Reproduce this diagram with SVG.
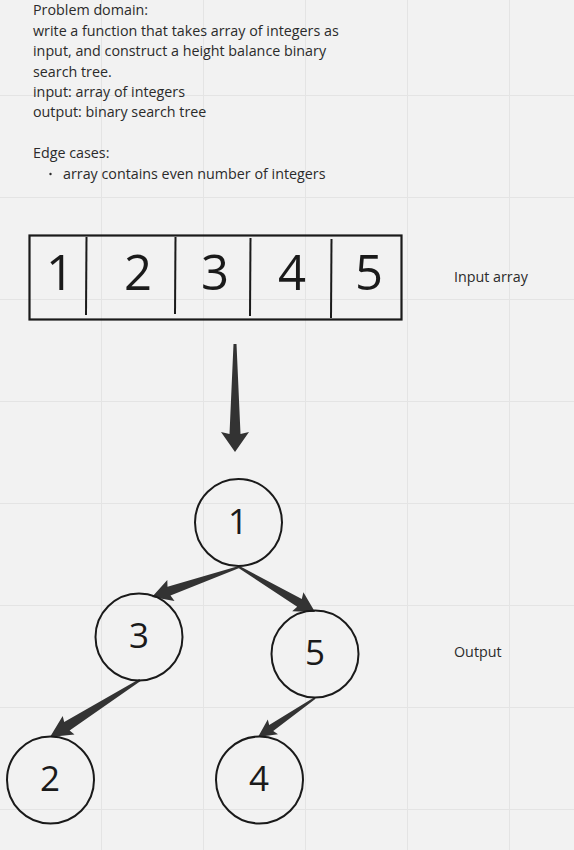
<svg xmlns="http://www.w3.org/2000/svg" width="574" height="850" viewBox="0 0 574 850">
<style>
.txt{font-family:"Open Sans","Liberation Sans",sans-serif;font-size:14.3px;fill:#2b2b2b}
.big{font-family:"Open Sans","Liberation Sans",sans-serif;font-size:49px;fill:#1a1a1a;text-anchor:middle}
.num{font-family:"Open Sans","Liberation Sans",sans-serif;font-size:35px;fill:#1a1a1a;text-anchor:middle}
.node{fill:none;stroke:#1a1a1a;stroke-width:2}
.grid{stroke:#e4e4e4;stroke-width:1}
.arr{fill:#333333}
</style>
<rect width="574" height="850" fill="#f2f2f2"/>
<g id="grid">
<line class="grid" x1="101.5" y1="0" x2="101.5" y2="850"/>
<line class="grid" x1="203.5" y1="0" x2="203.5" y2="850"/>
<line class="grid" x1="305.5" y1="0" x2="305.5" y2="850"/>
<line class="grid" x1="407.5" y1="0" x2="407.5" y2="850"/>
<line class="grid" x1="509.5" y1="0" x2="509.5" y2="850"/>
<line class="grid" x1="0" y1="95.5" x2="574" y2="95.5"/>
<line class="grid" x1="0" y1="197.5" x2="574" y2="197.5"/>
<line class="grid" x1="0" y1="299.5" x2="574" y2="299.5"/>
<line class="grid" x1="0" y1="401.5" x2="574" y2="401.5"/>
<line class="grid" x1="0" y1="503.5" x2="574" y2="503.5"/>
<line class="grid" x1="0" y1="605.5" x2="574" y2="605.5"/>
<line class="grid" x1="0" y1="707.5" x2="574" y2="707.5"/>
<line class="grid" x1="0" y1="809.5" x2="574" y2="809.5"/>
</g>
<g id="problem-text">
<text class="txt" x="33" y="15">Problem domain:</text>
<text class="txt" x="33" y="36">write a function that takes array of integers as</text>
<text class="txt" x="33" y="56">input, and construct a height balance binary</text>
<text class="txt" x="33" y="77">search tree.</text>
<text class="txt" x="33" y="97">input: array of integers</text>
<text class="txt" x="33" y="117">output: binary search tree</text>
<text class="txt" x="33" y="158">Edge cases:</text>
<circle cx="50.5" cy="174" r="1.2" fill="#2b2b2b"/>
<text class="txt" x="63" y="179">array contains even number of integers</text>
</g>
<g id="input-array">
<rect x="29.5" y="235.5" width="372" height="84" fill="none" stroke="#1a1a1a" stroke-width="2.2"/>
<line x1="86.5" y1="237" x2="86" y2="315" stroke="#1a1a1a" stroke-width="2"/>
<line x1="175.5" y1="237" x2="175" y2="314" stroke="#1a1a1a" stroke-width="2"/>
<line x1="250.5" y1="238" x2="250" y2="316" stroke="#1a1a1a" stroke-width="2"/>
<line x1="331.5" y1="239" x2="331" y2="318" stroke="#1a1a1a" stroke-width="2"/>
<text class="big" x="60" y="290">1</text>
<text class="big" x="138" y="290">2</text>
<text class="big" x="215" y="290">3</text>
<text class="big" x="292" y="290">4</text>
<text class="big" x="369" y="290">5</text>
</g>
<g id="label-input"><text class="txt" x="454" y="282">Input array</text></g>
<g id="label-output"><text class="txt" x="454" y="657">Output</text></g>
<g id="connectors">
<polygon class="arr" points="233.5,344 236.5,344 240.5,434 249,432 235,452 221,432 229.5,434"/>
<polygon class="arr" points="239.3,568 170.5,595.4 174.5,600.9 152,597 167.3,580.1 167.5,586.8 238.7,566.1"/>
<polygon class="arr" points="238.5,567.9 297.2,606.7 292.2,611.3 315,612 303.4,592.3 301.8,598.9 239.5,566.1"/>
<polygon class="arr" points="140.6,681 69.6,730.5 74.5,734.5 50,737 62.7,715.9 64.2,722.1 139.4,679"/>
<polygon class="arr" points="315.6,698.8 273.2,730.9 278,734.2 258,737 267.8,719.4 269.2,725.1 314.4,697.2"/>
</g>
<g id="node-1"><circle class="node" cx="238.5" cy="522.5" r="43.5"/><text class="num" x="238" y="534">1</text></g>
<g id="node-3"><circle class="node" cx="139" cy="637" r="43.5"/><text class="num" x="139" y="648">3</text></g>
<g id="node-5"><circle class="node" cx="315" cy="654" r="43.5"/><text class="num" x="315" y="665">5</text></g>
<g id="node-2"><circle class="node" cx="50.5" cy="780" r="43.5"/><text class="num" x="50" y="791">2</text></g>
<g id="node-4"><circle class="node" cx="259.5" cy="780" r="43.5"/><text class="num" x="259" y="791">4</text></g>
</svg>
